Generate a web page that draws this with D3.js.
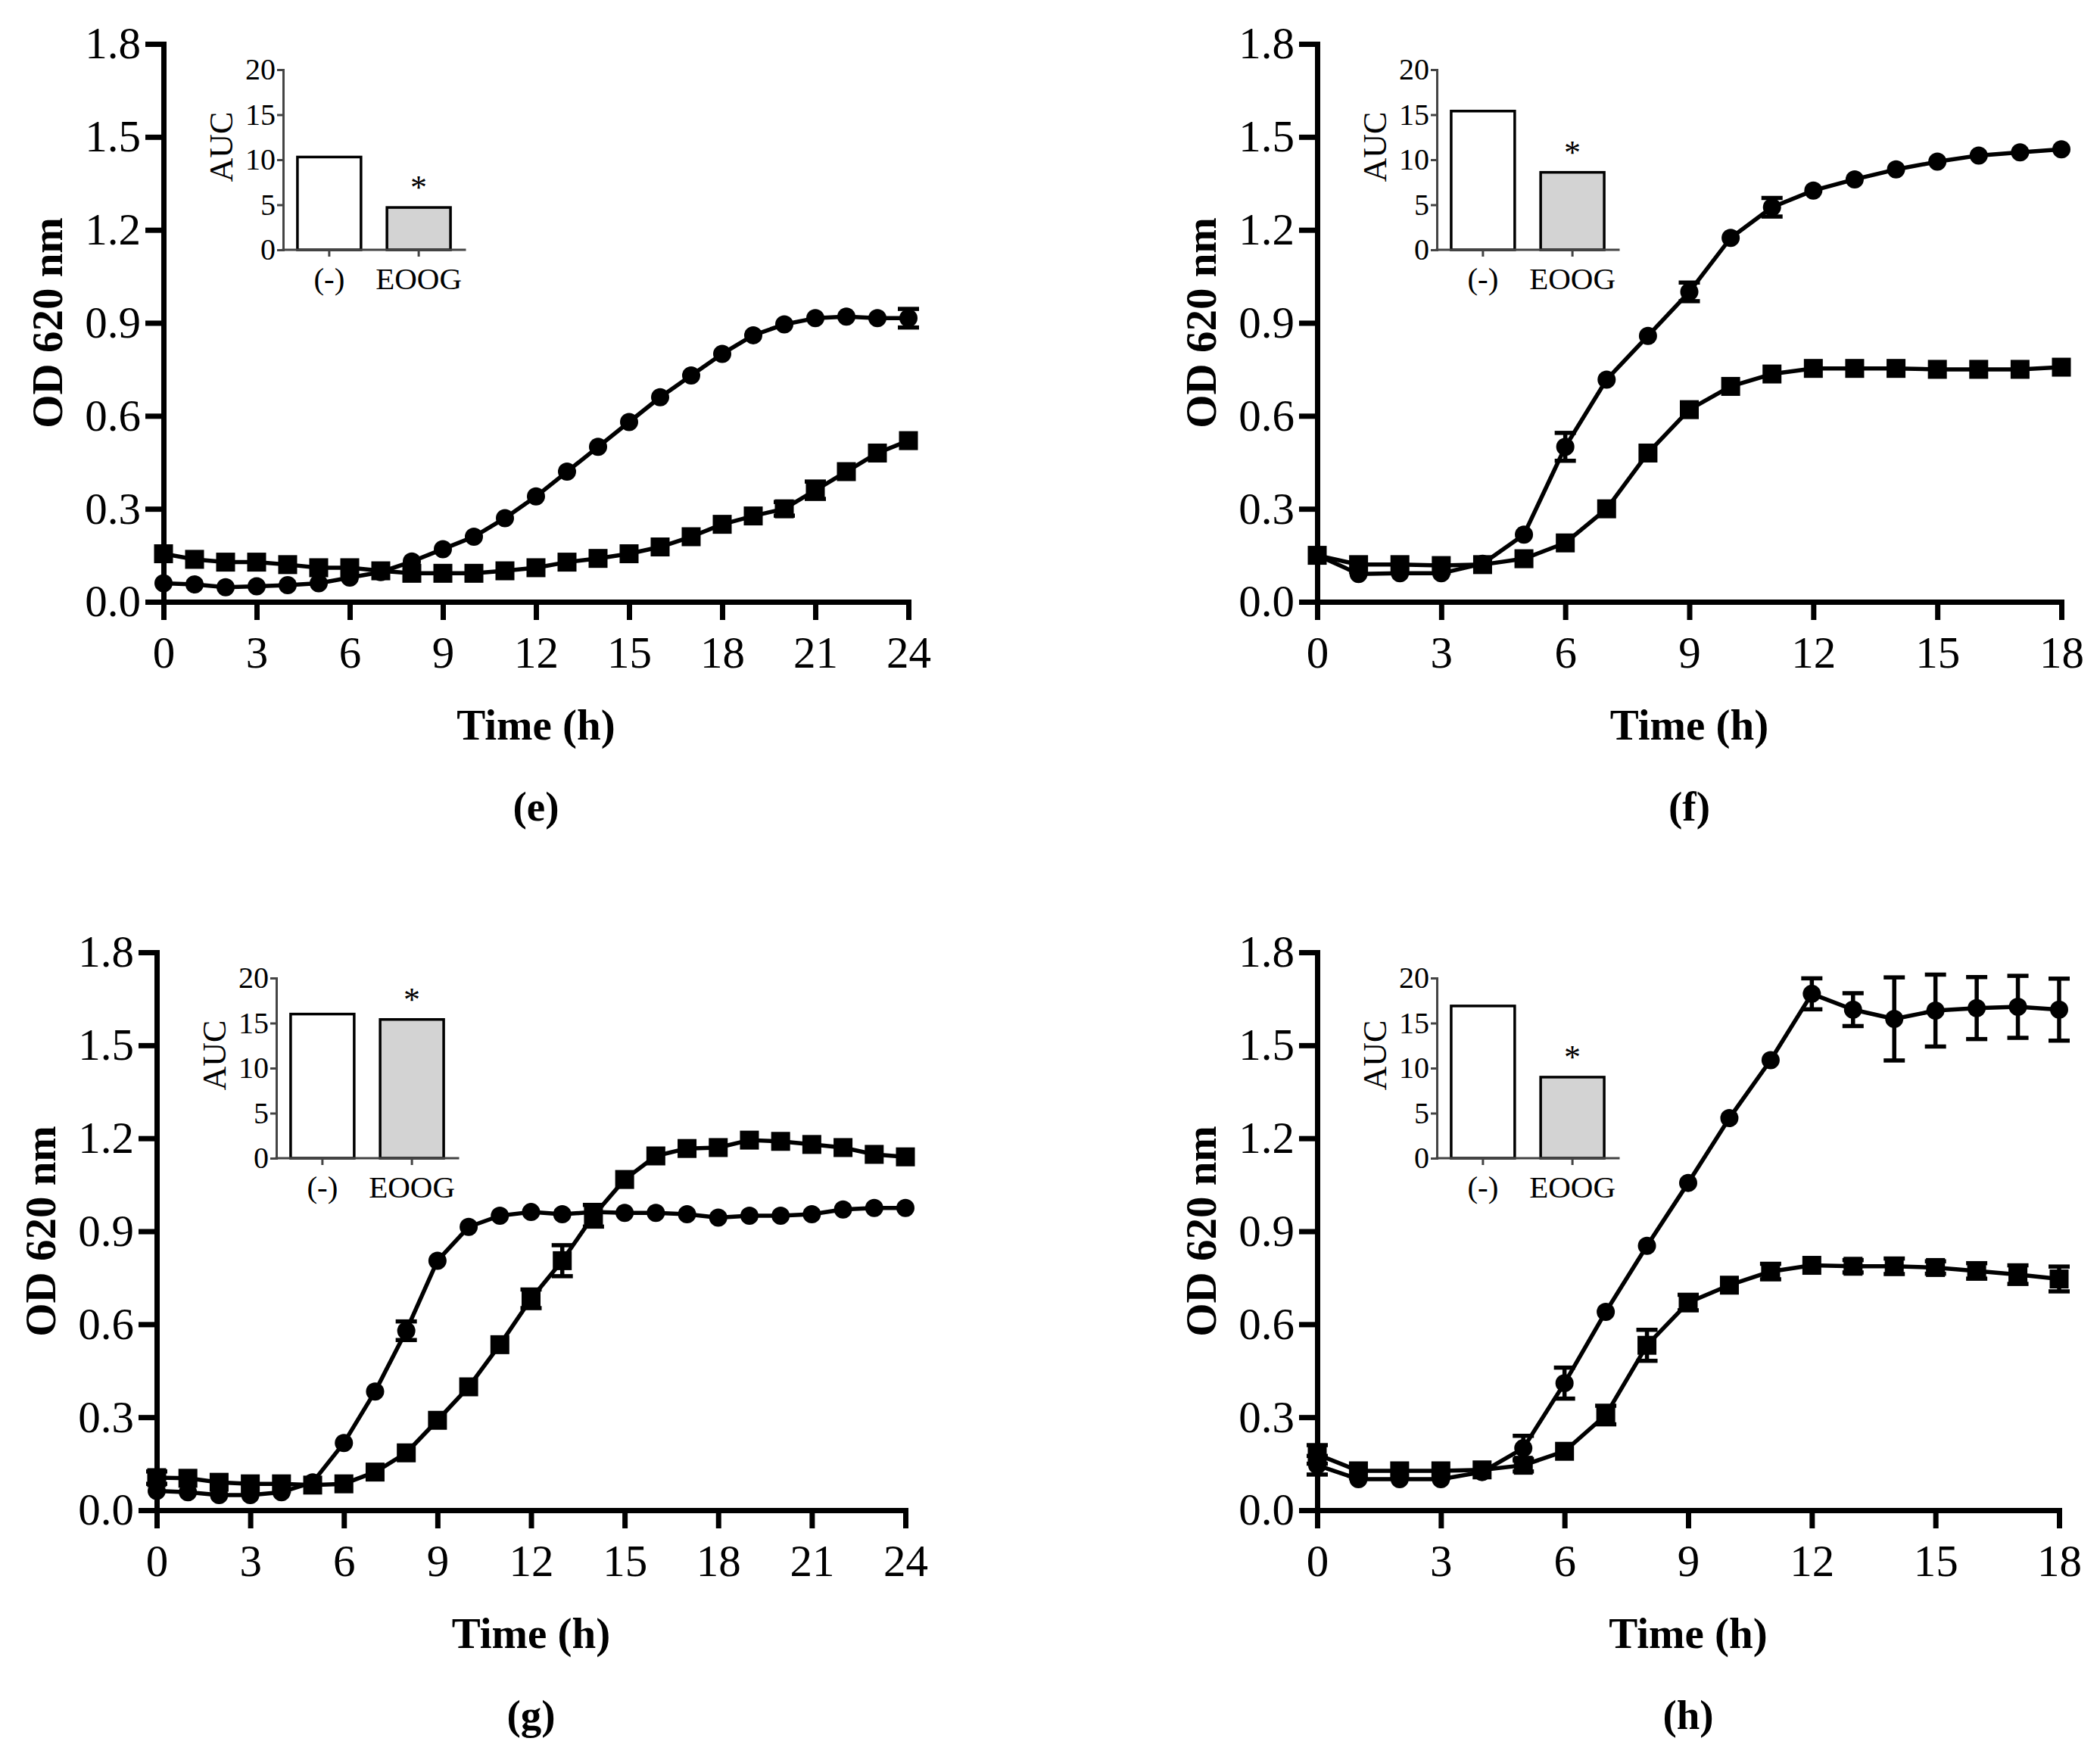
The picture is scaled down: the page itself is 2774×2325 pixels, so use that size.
<!DOCTYPE html>
<html>
<head>
<meta charset="utf-8">
<script src="https://cdn.jsdelivr.net/npm/d3@7"></script>
<style>
  body { margin: 0; background: #fff; }
</style>
</head>
<body>
<script>
// --- data ---
const hours24 = [0,1,2,3,4,5,6,7,8,9,10,11,12,13,14,15,16,17,18,19,20,21,22,23,24];
const hours18 = [0,1,2,3,4,5,6,7,8,9,10,11,12,13,14,15,16,17,18];
const yTicks = [0, 0.3, 0.6, 0.9, 1.2, 1.5, 1.8];
const xTicks24 = [0, 3, 6, 9, 12, 15, 18, 21, 24];
const xTicks18 = [0, 3, 6, 9, 12, 15, 18];
const aucTicks = [0, 5, 10, 15, 20];
const aucCategories = ["(-)", "EOOG"];

// (e)
const eCircle = [0.06,0.056,0.047,0.05,0.054,0.06,0.078,0.096,0.13,0.17,0.21,0.27,0.34,0.42,0.50,0.58,0.66,0.73,0.80,0.86,0.895,0.915,0.92,0.915,0.915];
const eCircleErr = [0,0,0,0,0,0,0,0,0,0,0,0,0,0,0,0,0,0,0,0,0,0,0,0,0.03];
const eSquare = [0.155,0.137,0.128,0.128,0.12,0.11,0.11,0.10,0.092,0.092,0.092,0.10,0.11,0.128,0.14,0.155,0.177,0.21,0.25,0.277,0.30,0.36,0.42,0.48,0.52];
const eSquareErr = [0,0,0,0,0,0,0,0,0,0,0,0,0,0,0,0,0,0,0,0,0.022,0.028,0,0,0];
const eAuc = [10.3, 4.7];

// (f)
const fCircle = [0.15,0.09,0.092,0.092,0.123,0.217,0.50,0.717,0.858,1.0,1.174,1.273,1.327,1.363,1.395,1.42,1.44,1.45,1.46];
const fCircleErr = [0,0,0,0,0,0,0.045,0,0,0.03,0,0.03,0,0,0,0,0,0,0];
const fSquare = [0.15,0.12,0.12,0.117,0.12,0.139,0.19,0.30,0.48,0.62,0.695,0.735,0.753,0.753,0.753,0.75,0.75,0.75,0.757];
const fSquareErr = [0,0,0,0,0,0,0,0,0,0,0,0,0,0,0,0,0,0,0];
const fAuc = [15.4, 8.6];

// (g)
const gCircle = [0.062,0.058,0.049,0.049,0.058,0.09,0.217,0.383,0.579,0.805,0.914,0.95,0.962,0.955,0.962,0.959,0.959,0.955,0.944,0.95,0.95,0.955,0.97,0.975,0.975];
const gCircleErr = [0,0,0,0,0,0,0,0,0.03,0,0,0,0,0,0,0,0,0,0,0,0,0,0,0,0];
const gSquare = [0.105,0.103,0.09,0.085,0.085,0.081,0.085,0.123,0.185,0.29,0.398,0.534,0.682,0.805,0.95,1.067,1.143,1.167,1.17,1.194,1.19,1.18,1.17,1.148,1.14];
const gSquareErr = [0.02,0,0,0,0,0,0,0,0,0,0,0,0.03,0.05,0.035,0,0,0,0,0,0,0,0,0,0];
const gAuc = [16.0, 15.4];

// (h)
const hCircle = [0.145,0.10,0.10,0.10,0.123,0.20,0.41,0.64,0.853,1.056,1.265,1.452,1.666,1.615,1.585,1.612,1.62,1.624,1.615];
const hCircleErr = [0.03,0,0,0,0,0.04,0.05,0,0,0,0,0,0.05,0.053,0.134,0.116,0.1,0.1,0.1];
const hSquare = [0.18,0.127,0.127,0.127,0.13,0.145,0.19,0.307,0.532,0.67,0.726,0.77,0.79,0.787,0.787,0.783,0.772,0.76,0.746];
const hSquareErr = [0.03,0,0,0,0,0.02,0,0.03,0.05,0.025,0,0.025,0,0.02,0.025,0.02,0.025,0.03,0.04];
const hAuc = [16.9, 9.0];

const panels = [
  { tag: "(e)", hours: hours24, xTicks: xTicks24, circle: eCircle, circleErr: eCircleErr, square: eSquare, squareErr: eSquareErr, auc: eAuc, left: 216, right: 1200, top: 58, bottom: 795 },
  { tag: "(f)", hours: hours18, xTicks: xTicks18, circle: fCircle, circleErr: fCircleErr, square: fSquare, squareErr: fSquareErr, auc: fAuc, left: 1740, right: 2723, top: 58, bottom: 795 },
  { tag: "(g)", hours: hours24, xTicks: xTicks24, circle: gCircle, circleErr: gCircleErr, square: gSquare, squareErr: gSquareErr, auc: gAuc, left: 207, right: 1196, top: 1258, bottom: 1995 },
  { tag: "(h)", hours: hours18, xTicks: xTicks18, circle: hCircle, circleErr: hCircleErr, square: hSquare, squareErr: hSquareErr, auc: hAuc, left: 1740, right: 2720, top: 1258, bottom: 1995 }
];

const width = 2774;
const height = 2325;
const serif = "'Liberation Serif', 'Times New Roman', serif";

const svg = d3.select("body").append("svg")
  .attr("width", width)
  .attr("height", height)
  .attr("xmlns", "http://www.w3.org/2000/svg");

svg.append("rect").attr("width", width).attr("height", height).attr("fill", "#fff");

function styleAxis(g, lineW, fontSize, color) {
  g.select(".domain").attr("stroke", color).attr("stroke-width", lineW).attr("stroke-linecap", "square");
  g.selectAll(".tick line").attr("stroke", color).attr("stroke-width", lineW);
  g.selectAll(".tick text")
    .attr("fill", "#000")
    .style("font-family", serif)
    .style("font-size", fontSize + "px");
}

for (const p of panels) {
  const x = d3.scaleLinear().domain([0, p.hours[p.hours.length - 1]]).range([p.left, p.right]);
  const y = d3.scaleLinear().domain([0, 1.8]).range([p.bottom, p.top]);
  const g = svg.append("g");

  // 軸
  const gx = g.append("g").attr("transform", `translate(0,${p.bottom})`)
    .call(d3.axisBottom(x).tickValues(p.xTicks).tickSize(24).tickSizeOuter(0).tickPadding(21));
  styleAxis(gx, 7, 59, "#000");

  const gy = g.append("g").attr("transform", `translate(${p.left},0)`)
    .call(d3.axisLeft(y).tickValues(yTicks).tickFormat(d3.format(".1f")).tickSize(24).tickSizeOuter(0).tickPadding(6));
  styleAxis(gy, 7, 59, "#000");

  // 軸ラベル
  g.append("text")
    .attr("transform", `translate(${p.left - 154},${(p.top + p.bottom) / 2}) rotate(-90)`)
    .attr("text-anchor", "middle").attr("dy", "0.35em")
    .style("font-family", serif).style("font-weight", "bold").style("font-size", "57px")
    .text("OD 620 nm");

  g.append("text")
    .attr("x", (p.left + p.right) / 2).attr("y", p.bottom + 162).attr("dy", "0.35em")
    .attr("text-anchor", "middle")
    .style("font-family", serif).style("font-weight", "bold").style("font-size", "57px")
    .text("Time (h)");

  g.append("text")
    .attr("x", (p.left + p.right) / 2).attr("y", p.bottom + 270).attr("dy", "0.35em")
    .attr("text-anchor", "middle")
    .style("font-family", serif).style("font-weight", "bold").style("font-size", "55px")
    .text(p.tag);

  // 線
  const line = d3.line().x((d, i) => x(p.hours[i])).y(d => y(d));
  for (const s of [p.circle, p.square]) {
    g.append("path").datum(s).attr("d", line)
      .attr("fill", "none").attr("stroke", "#000").attr("stroke-width", 5.5).attr("stroke-linejoin", "round");
  }

  // エラーバー
  const cap = 14;
  for (const [vals, errs] of [[p.circle, p.circleErr], [p.square, p.squareErr]]) {
    const eb = g.append("g").selectAll("g")
      .data(vals.map((v, i) => ({ t: p.hours[i], v, e: errs[i] })).filter(d => d.e > 0))
      .join("g").attr("stroke", "#000").attr("stroke-width", 5.5);
    eb.append("line").attr("x1", d => x(d.t)).attr("x2", d => x(d.t)).attr("y1", d => y(d.v - d.e)).attr("y2", d => y(d.v + d.e));
    eb.append("line").attr("x1", d => x(d.t) - cap).attr("x2", d => x(d.t) + cap).attr("y1", d => y(d.v + d.e)).attr("y2", d => y(d.v + d.e));
    eb.append("line").attr("x1", d => x(d.t) - cap).attr("x2", d => x(d.t) + cap).attr("y1", d => y(d.v - d.e)).attr("y2", d => y(d.v - d.e));
  }

  // マーカー
  g.append("g").selectAll("circle").data(p.circle).join("circle")
    .attr("cx", (d, i) => x(p.hours[i])).attr("cy", d => y(d)).attr("r", 12).attr("fill", "#000");
  g.append("g").selectAll("rect").data(p.square).join("rect")
    .attr("x", (d, i) => x(p.hours[i]) - 12.5).attr("y", d => y(d) - 12.5)
    .attr("width", 25).attr("height", 25).attr("fill", "#000");

  // 挿入図 (AUC)
  const ix = p.left + 158;
  const iTop = p.top + 34;
  const iBottom = iTop + 238;
  const xb = d3.scaleBand().domain(aucCategories).range([ix, ix + 240]).paddingInner(0.29).paddingOuter(0.16);
  const ya = d3.scaleLinear().domain([0, 20]).range([iBottom, iTop]);
  const ins = g.append("g");

  ins.selectAll("rect").data(p.auc).join("rect")
    .attr("x", (d, i) => xb(aucCategories[i])).attr("width", xb.bandwidth())
    .attr("y", d => ya(d)).attr("height", d => iBottom - ya(d))
    .attr("fill", (d, i) => i === 0 ? "#fff" : "#d3d3d3")
    .attr("stroke", "#000").attr("stroke-width", 3.5);

  const iax = ins.append("g").attr("transform", `translate(0,${iBottom})`)
    .call(d3.axisBottom(xb).tickSize(9).tickSizeOuter(0).tickPadding(14));
  styleAxis(iax, 3, 41, "#444");
  iax.select(".domain").attr("d", `M${ix},0H${ix + 240}`);

  const iay = ins.append("g").attr("transform", `translate(${ix},0)`)
    .call(d3.axisLeft(ya).tickValues(aucTicks).tickSize(8).tickSizeOuter(0).tickPadding(2));
  styleAxis(iay, 3, 40, "#444");

  ins.append("text")
    .attr("transform", `translate(${ix - 82},${iTop + 102}) rotate(-90)`)
    .attr("text-anchor", "middle").attr("dy", "0.35em")
    .style("font-family", serif).style("font-size", "44px")
    .text("AUC");

  ins.append("text")
    .attr("x", xb("EOOG") + xb.bandwidth() / 2).attr("y", ya(p.auc[1]) - 12)
    .attr("text-anchor", "middle")
    .style("font-family", serif).style("font-size", "44px")
    .text("*");
}
</script>
</body>
</html>
